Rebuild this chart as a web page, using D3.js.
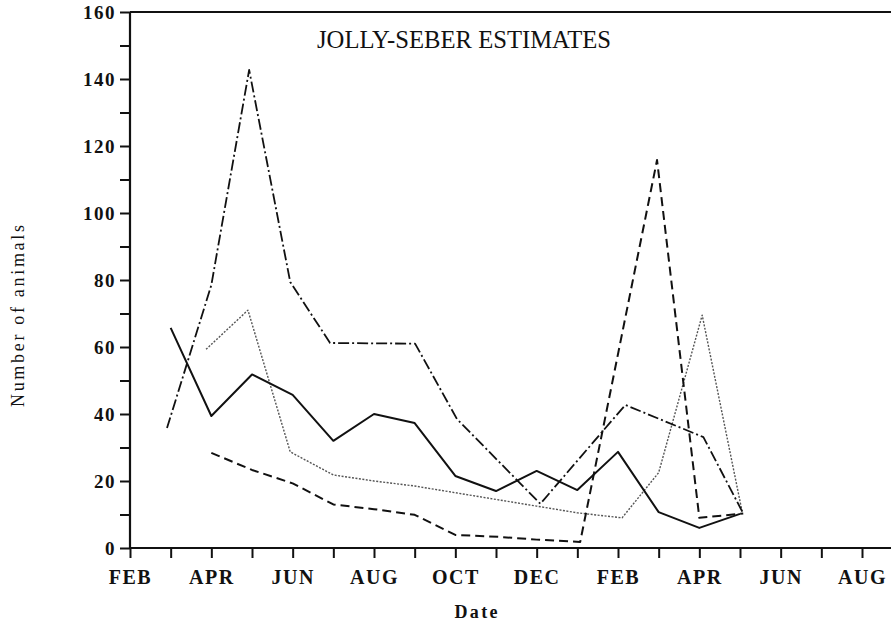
<!DOCTYPE html>
<html>
<head>
<meta charset="utf-8">
<script src="https://cdn.jsdelivr.net/npm/d3@7"></script>
<style>
  html, body { margin: 0; padding: 0; background: #fff; }
  svg { display: block; }
</style>
</head>
<body>
<script>
// month index 0 = first FEB
const monthLabels = ["FEB", "APR", "JUN", "AUG", "OCT", "DEC", "FEB", "APR", "JUN", "AUG"];
const yTicks = [0, 20, 40, 60, 80, 100, 120, 140, 160];

// solid
const solidMonths = [1, 2, 3, 4, 5, 6, 7, 8, 9, 10, 11, 12, 13, 14, 15];
const solidValues = [65.7, 39.4, 51.8, 45.7, 32, 40, 37.3, 21.5, 17, 23, 17.3, 28.7, 10.7, 6, 10.2];

// long dash - dot
const dashDotMonths = [0.91, 2, 2.93, 3.94, 4.92, 7.01, 8.04, 10.09, 12.18, 14.1, 15.08];
const dashDotValues = [35.8, 78.5, 142.7, 79.4, 61.2, 61, 38.5, 13.2, 42.7, 33.1, 10.3];

// dashed
const dashedMonths = [2, 3, 4, 5, 6, 7, 8, 9.1, 10, 11.07, 12.96, 14, 15.08];
const dashedValues = [28.4, 23.3, 19.3, 13, 11.6, 9.9, 3.9, 3.3, 2.5, 1.8, 115.8, 9, 10.3];

// dotted
const dottedMonths = [1.87, 2.9, 3.94, 5, 6, 7, 8, 9, 10, 11, 12.1, 13, 14.07, 15.05];
const dottedValues = [59.3, 71, 28.7, 21.8, 20, 18.5, 16.5, 14.5, 12.5, 10.5, 9, 22.5, 69.5, 11];

const width = 891, height = 626;
const serif = "'Liberation Serif', 'DejaVu Serif', serif";

const x = d3.scaleLinear().domain([0, 18]).range([130, 862]);
const y = d3.scaleLinear().domain([0, 160]).range([548, 12]);

const svg = d3.select("body").append("svg")
  .attr("width", width)
  .attr("height", height)
  .attr("font-family", serif);

// frame: top line and axes
svg.append("line")
  .attr("x1", 130).attr("x2", width)
  .attr("y1", y(160)).attr("y2", y(160))
  .attr("stroke", "#111").attr("stroke-width", 2);

const yAxis = d3.axisLeft(y)
  .tickValues(d3.range(0, 161, 10))
  .tickSize(10)
  .tickFormat(d => d % 20 === 0 ? d : "");

const gy = svg.append("g")
  .attr("transform", `translate(${x(0)},0)`)
  .call(yAxis)
  .attr("font-family", serif);
gy.select(".domain").attr("stroke", "#111").attr("stroke-width", 2.2).attr("d", `M0,${y(0)}V${y(160)}`);
gy.selectAll(".tick line").attr("stroke", "#111").attr("stroke-width", 2);
gy.selectAll(".tick text")
  .attr("x", -14)
  .attr("font-size", 19)
  .attr("font-weight", "bold")
  .attr("letter-spacing", 1.5)
  .attr("fill", "#111");

const xAxis = d3.axisBottom(x)
  .tickValues(d3.range(0, 19, 1))
  .tickSize(10)
  .tickFormat(d => d % 2 === 0 ? monthLabels[d / 2] : "");

const gx = svg.append("g")
  .attr("transform", `translate(0,${y(0)})`)
  .call(xAxis)
  .attr("font-family", serif);
gx.select(".domain").attr("stroke", "#111").attr("stroke-width", 2.2).attr("d", `M${x(0)},0H${width}`);
gx.selectAll(".tick line").attr("stroke", "#111").attr("stroke-width", 2);
gx.selectAll(".tick text")
  .attr("y", 22)
  .attr("font-size", 20)
  .attr("font-weight", "bold")
  .attr("letter-spacing", 1.5)
  .attr("fill", "#111");

// titles
svg.append("text")
  .attr("x", 464).attr("y", 48)
  .attr("text-anchor", "middle")
  .attr("font-size", 25)
  .attr("textLength", 294)
  .attr("lengthAdjust", "spacingAndGlyphs")
  .attr("fill", "#111")
  .text("JOLLY-SEBER ESTIMATES");

svg.append("text")
  .attr("x", 476).attr("y", 618)
  .attr("text-anchor", "middle")
  .attr("font-size", 18)
  .attr("font-weight", "bold")
  .attr("textLength", 43)
  .attr("fill", "#111")
  .text("Date");

svg.append("text")
  .attr("transform", "translate(24,316) rotate(-90)")
  .attr("text-anchor", "middle")
  .attr("font-size", 18)
  .attr("textLength", 182)
  .attr("fill", "#111")
  .text("Number of animals");

// series
const line = d3.line().x(d => x(d[0])).y(d => y(d[1]));

const series = [
  { months: dottedMonths, values: dottedValues, dash: "2,1.5", width: 1.4, color: "#555" },
  { months: dashedMonths, values: dashedValues, dash: "9,5", width: 2, color: "#111" },
  { months: dashDotMonths, values: dashDotValues, dash: "11,3,2,3", width: 1.8, color: "#111" },
  { months: solidMonths, values: solidValues, dash: null, width: 2, color: "#111" }
];

svg.append("g")
  .attr("fill", "none")
  .selectAll("path")
  .data(series)
  .join("path")
  .attr("stroke", d => d.color)
  .attr("stroke-width", d => d.width)
  .attr("stroke-dasharray", d => d.dash)
  .attr("stroke-linejoin", "round")
  .attr("d", d => line(d.months.map((m, i) => [m, d.values[i]])));
</script>
</body>
</html>
